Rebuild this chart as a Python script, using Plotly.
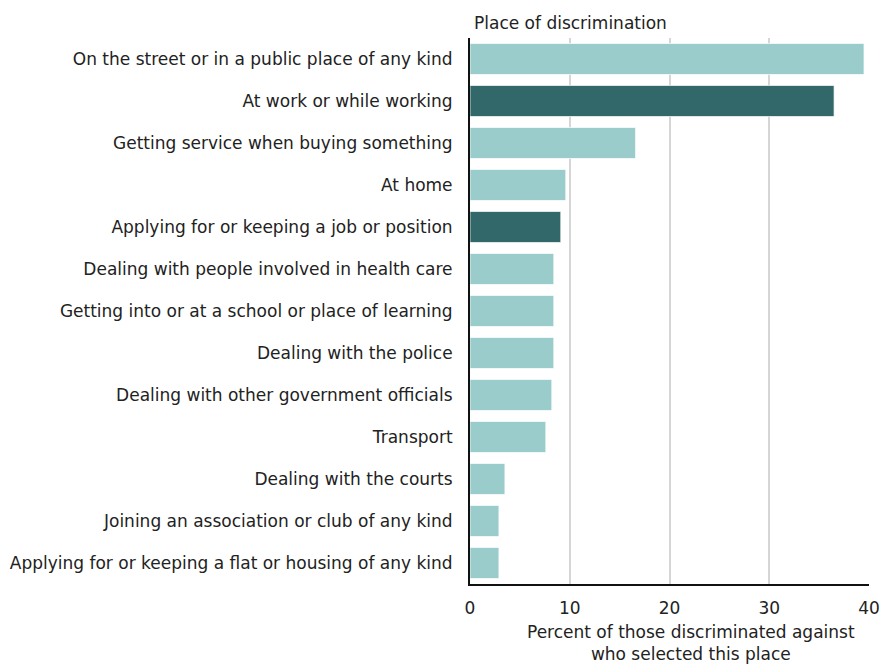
import plotly.graph_objects as go

categories = [
    "On the street or in a public place of any kind",
    "At work or while working",
    "Getting service when buying something",
    "At home",
    "Applying for or keeping a job or position",
    "Dealing with people involved in health care",
    "Getting into or at a school or place of learning",
    "Dealing with the police",
    "Dealing with other government officials",
    "Transport",
    "Dealing with the courts",
    "Joining an association or club of any kind",
    "Applying for or keeping a flat or housing of any kind",
]
values = [39.5, 36.5, 16.6, 9.6, 9.1, 8.4, 8.4, 8.4, 8.2, 7.6, 3.5, 2.9, 2.9]
highlight = [False, True, False, False, True, False, False, False, False, False, False, False, False]

LIGHT = "#9ACCCC"
DARK = "#326869"
colors = [DARK if h else LIGHT for h in highlight]

FONT = "DejaVu Sans, sans-serif"
FS = 17

fig = go.Figure(go.Bar(
    x=values, y=categories, orientation="h",
    marker=dict(color=colors, line=dict(color="rgba(255,255,255,0.7)", width=1)),
    width=0.74,
))

fig.update_layout(
    width=880, height=660,
    margin=dict(l=462, r=19, t=30, b=84),
    plot_bgcolor="white", paper_bgcolor="white",
    font=dict(family=FONT, size=FS, color="#222222"),
    showlegend=False,
)
fig.update_xaxes(
    range=[0, 40], tickvals=[0, 10, 20, 30, 40],
    showgrid=True, gridcolor="#d6d6d6", gridwidth=2,
    zeroline=False, automargin=False,
    showline=True, linecolor="#111111", linewidth=2,
    ticks="", ticklabelstandoff=8, tickfont=dict(size=FS, color="#222222"),
)
fig.update_yaxes(
    autorange="reversed", automargin=False,
    showline=True, linecolor="#111111", linewidth=2,
    ticks="", ticklabelstandoff=12,
    tickfont=dict(size=FS, color="#222222"),
)
fig.add_annotation(
    x=0, y=1, xref="paper", yref="paper", xanchor="left", yanchor="bottom",
    xshift=2, yshift=3,
    text="Place of discrimination", showarrow=False,
    font=dict(size=FS, color="#222222"),
)
fig.add_annotation(
    x=0.555, y=0, xref="paper", yref="paper", xanchor="center", yanchor="top",
    yshift=-36,
    text="Percent of those discriminated against<br>who selected this place",
    showarrow=False, font=dict(size=FS, color="#222222"),
)
fig.write_html("out.html")
